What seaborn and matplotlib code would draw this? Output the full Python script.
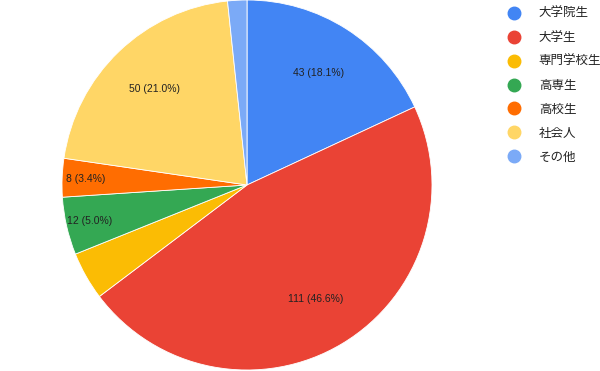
import numpy as np
import matplotlib
matplotlib.use("Agg")
import matplotlib.pyplot as plt
from matplotlib.lines import Line2D
import seaborn as sns

# data (total 238)
categories = ["大学院生", "大学生", "専門学校生", "高専生", "高校生", "社会人", "その他"]
counts = [43, 111, 10, 12, 8, 50, 4]
show_label = [True, True, False, True, True, True, False]

colors = ["#4285F4", "#EA4335", "#FBBC04", "#34A853", "#FF6D01", "#FFD666", "#7BAAF7"]

sns.set_theme(style="white")
plt.rcParams['font.family'] = ['Liberation Sans', 'Noto Sans CJK JP', 'DejaVu Sans']
palette = sns.color_palette(colors)

fig = plt.figure(figsize=(6, 3.71), dpi=100)
ax = fig.add_axes([62 / 600, 1 / 371, 370 / 600, 370 / 371])

total = sum(counts)
wedges, _ = ax.pie(counts, colors=palette, startangle=90, counterclock=False,
                   wedgeprops=dict(linewidth=0.6, edgecolor="white"))
ax.set_xlim(-1, 1)
ax.set_ylim(-1, 1)
ax.set_aspect("equal")

for w, c, show in zip(wedges, counts, show_label):
    if not show:
        continue
    pct = 100 * c / total
    ang = np.deg2rad((w.theta1 + w.theta2) / 2)
    r = 0.72 if pct > 10 else 0.87
    ax.text(r * np.cos(ang), r * np.sin(ang), f"{c} ({pct:.1f}%)",
            ha="center", va="center", fontsize=7.5, color="#222222")

handles = [Line2D([], [], marker="o", linestyle="", markersize=9,
                  markerfacecolor=col, markeredgecolor=col) for col in palette]
fig.legend(handles, categories, loc="upper left", bbox_to_anchor=(0.825, 1.008),
           frameon=False, fontsize=9, labelspacing=0.95, handletextpad=1.4,
           handlelength=1.2, labelcolor="#222222")

fig.savefig("out.png", dpi=100)
